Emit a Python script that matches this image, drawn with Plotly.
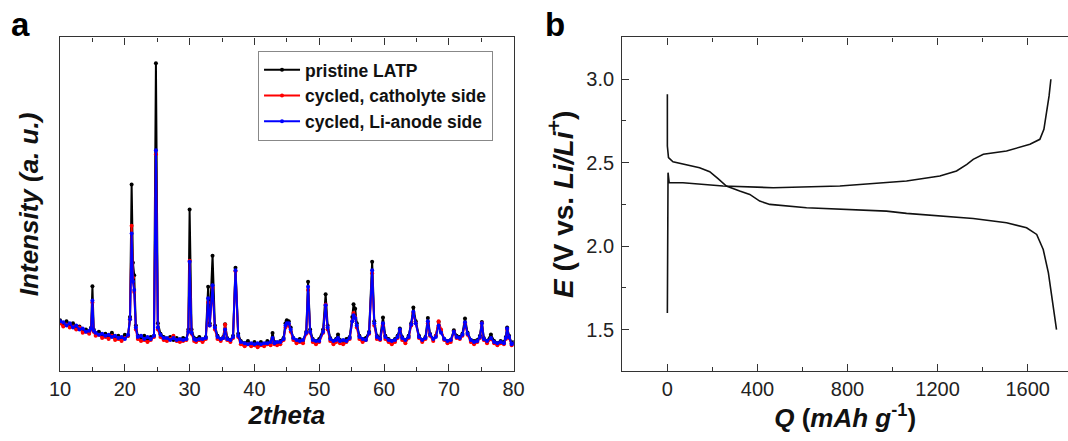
import plotly.graph_objects as go

# ---------------- Panel a: XRD ----------------
two_theta = [10.0, 10.5, 11.0, 11.5, 12.0, 12.5, 13.0, 13.5, 14.0, 14.5, 14.8, 15.0, 15.2, 15.5,
             16.0, 16.5, 17.0, 17.5, 18.0, 18.5, 19.0, 19.5, 20.0, 20.5, 20.8, 21.05, 21.25, 21.45,
             21.7, 22.0, 22.5, 23.0, 23.5, 24.0, 24.5, 24.8, 25.1, 25.5, 26.0, 26.5, 27.0, 27.5,
             28.0, 28.5, 29.0, 29.5, 29.8, 30.0, 30.3, 30.7, 31.0, 31.5, 32.0, 32.5, 32.86, 33.1,
             33.54, 33.9, 34.3, 34.8, 35.2, 35.47, 35.8, 36.3, 36.7, 37.08, 37.5, 37.9, 38.5, 39.0,
             39.5, 40.0, 40.5, 41.0, 41.5, 42.0, 42.5, 42.8, 43.1, 43.5, 44.0, 44.5, 44.8, 45.0,
             45.3, 45.6, 46.0, 46.5, 47.0, 47.5, 48.0, 48.28, 48.6, 49.0, 49.5, 50.0, 50.6, 50.99,
             51.3, 51.7, 52.2, 52.6, 52.9, 53.2, 53.7, 54.2, 54.7, 55.1, 55.3, 55.55, 55.8, 56.2,
             56.7, 57.2, 57.7, 58.17, 58.5, 58.9, 59.4, 59.84, 60.2, 60.7, 61.2, 61.7, 62.1, 62.45,
             62.8, 63.3, 63.8, 64.2, 64.53, 64.9, 65.4, 65.9, 66.4, 66.77, 67.1, 67.6, 68.0, 68.43,
             68.8, 69.3, 69.8, 70.3, 70.78, 71.2, 71.7, 72.1, 72.5, 72.9, 73.4, 73.9, 74.4, 74.8,
             75.1, 75.4, 75.9, 76.5, 77.0, 77.5, 78.0, 78.5, 78.8, 79.0, 79.3, 79.7, 80.0]

pristine = [2450, 2250, 2400, 2200, 2300, 2050, 2150, 1950, 2000, 1850, 2100, 4080, 2000, 1800,
            1900, 1700, 1800, 1650, 1850, 1650, 1700, 1600, 1750, 1700, 2600, 8960, 5200, 4610,
            2200, 1700, 1600, 1700, 1550, 1650, 1700, 14770, 2300, 1800, 1650, 1550, 1650, 1500,
            1600, 1500, 1600, 1550, 2000, 7760, 2000, 1600, 1550, 1650, 1500, 1650, 4050, 2300,
            5540, 2200, 1700, 1550, 1650, 2260, 1600, 1500, 1700, 4960, 1800, 1450, 1350, 1450,
            1300, 1400, 1300, 1400, 1300, 1450, 1350, 1840, 1400, 1350, 1450, 1600, 2300, 2450,
            2400, 2100, 1600, 1450, 1550, 1450, 1900, 4290, 2000, 1550, 1450, 1550, 2000, 3700,
            2200, 1600, 1450, 1550, 1760, 1500, 1450, 1550, 1650, 2600, 3220, 3000, 2300, 1700,
            1550, 1600, 1900, 5250, 2400, 1700, 1600, 2580, 1700, 1550, 1450, 1550, 1700, 2050,
            1650, 1500, 1700, 2300, 3060, 2400, 1700, 1500, 1650, 2560, 1800, 1550, 1700, 2370,
            1900, 1550, 1450, 1500, 1970, 1700, 1650, 1800, 2530, 1850, 1500, 1450, 1500, 1700,
            2370, 1600, 1450, 1760, 1450, 1350, 1450, 1400, 1650, 2100, 1700, 1350, 1400]

catholyte = [2300, 2150, 2250, 2100, 2150, 2000, 2100, 1850, 1900, 1800, 2000, 3300, 1900, 1700,
             1750, 1600, 1650, 1550, 1700, 1500, 1550, 1450, 1600, 1700, 2500, 6980, 4500, 3800,
             2000, 1550, 1450, 1500, 1400, 1500, 1650, 10400, 2000, 1650, 1500, 1450, 1550, 1700,
             1450, 1400, 1450, 1500, 1900, 5300, 1800, 1450, 1400, 1500, 1400, 1550, 3300, 2200,
             4000, 2000, 1550, 1450, 1600, 2250, 1500, 1400, 1600, 4800, 1650, 1300, 1200, 1300,
             1200, 1250, 1150, 1250, 1200, 1300, 1250, 1550, 1300, 1250, 1300, 1500, 2100, 2250,
             2200, 1900, 1500, 1350, 1400, 1350, 1800, 3900, 1850, 1400, 1300, 1400, 1850, 3200,
             2000, 1450, 1300, 1400, 1550, 1350, 1300, 1400, 1550, 2400, 2800, 2600, 2100, 1550,
             1400, 1500, 1800, 4700, 2200, 1550, 1500, 2200, 1550, 1400, 1300, 1400, 1600, 1950,
             1500, 1350, 1600, 2200, 2800, 2300, 1600, 1400, 1550, 2300, 1700, 1450, 1700, 2400,
             2000, 1500, 1350, 1400, 1900, 1600, 1550, 1700, 2300, 1750, 1400, 1300, 1400, 1600,
             2300, 1500, 1350, 1550, 1350, 1250, 1350, 1300, 1550, 2000, 1600, 1250, 1300]

li_anode = [2400, 2350, 2200, 2300, 2100, 2200, 2000, 2050, 1900, 1950, 2050, 3400, 1950, 1850,
            1750, 1800, 1700, 1750, 1650, 1700, 1600, 1650, 1550, 1750, 2500, 6600, 4300, 3900,
            2100, 1650, 1700, 1550, 1650, 1550, 1700, 10600, 2100, 1750, 1600, 1600, 1500, 1600,
            1500, 1550, 1500, 1550, 1900, 5250, 1850, 1550, 1500, 1550, 1550, 1600, 3500, 2200,
            4130, 2100, 1650, 1550, 1600, 2000, 1550, 1500, 1650, 4850, 1700, 1400, 1350, 1300,
            1350, 1300, 1350, 1300, 1350, 1350, 1400, 1600, 1350, 1400, 1400, 1550, 2200, 2300,
            2300, 2000, 1600, 1500, 1450, 1500, 1850, 4050, 1900, 1500, 1450, 1450, 1900, 3170,
            2100, 1550, 1450, 1500, 1600, 1450, 1500, 1450, 1600, 2400, 2690, 2550, 2200, 1650,
            1550, 1500, 1850, 4850, 2300, 1650, 1550, 2300, 1650, 1500, 1450, 1500, 1650, 2000,
            1600, 1500, 1650, 2250, 2850, 2300, 1650, 1500, 1600, 2400, 1750, 1550, 1650, 2200,
            1850, 1550, 1450, 1500, 1900, 1650, 1600, 1750, 2350, 1800, 1500, 1400, 1450, 1650,
            2300, 1550, 1450, 1600, 1400, 1350, 1400, 1350, 1600, 2050, 1650, 1300, 1350]

series_names = ["pristine LATP", "cycled, catholyte side", "cycled, Li-anode side"]
series_colors = ["#000000", "#ff0000", "#0000ff"]

# ---------------- Panel b: voltage profile ----------------
discharge_q = [0, 0, 5, 25, 143, 188, 225, 262, 321, 366, 410, 455, 618, 973, 1062, 1358,
               1506, 1595, 1640, 1669, 1692, 1714, 1728]
discharge_e = [2.91, 2.60, 2.53, 2.505, 2.47, 2.446, 2.404, 2.36, 2.33, 2.31, 2.27, 2.25, 2.23,
               2.21, 2.196, 2.166, 2.14, 2.11, 2.07, 1.98, 1.84, 1.62, 1.50]
charge_q = [0, 0, 3, 8, 69, 247, 470, 766, 1062, 1210, 1284, 1330, 1358, 1403, 1506, 1610,
            1654, 1672, 1685, 1695, 1703]
charge_e = [1.60, 2.30, 2.44, 2.38, 2.38, 2.36, 2.35, 2.36, 2.39, 2.42, 2.45, 2.49, 2.52, 2.55,
            2.57, 2.61, 2.64, 2.70, 2.80, 2.90, 3.00]

FONT = "Arial, 'Liberation Sans', sans-serif"
AX = "#333333"

fig = go.Figure()
ys = [pristine, catholyte, li_anode]
for i, (name, col, yv) in enumerate(zip(series_names, series_colors, ys)):
    fig.add_trace(go.Scatter(
        x=two_theta, y=yv, name=name, mode="lines+markers",
        line=dict(color=col, width=2), marker=dict(color=col, size=4),
        legendgroup=f"g{i}", xaxis="x", yaxis="y"))

fig.add_trace(go.Scatter(x=discharge_q, y=discharge_e, mode="lines", showlegend=False,
                         line=dict(color="#111111", width=1.6), xaxis="x2", yaxis="y2"))
fig.add_trace(go.Scatter(x=charge_q, y=charge_e, mode="lines", showlegend=False,
                         line=dict(color="#111111", width=1.6), xaxis="x2", yaxis="y2"))

tickfont = dict(family=FONT, size=20, color="#222222")
titlefont = dict(family=FONT, size=26, color="#111111")

fig.update_layout(
    width=1068, height=441,
    margin=dict(l=0, r=0, t=0, b=0, autoexpand=False),
    paper_bgcolor="white", plot_bgcolor="white",
    showlegend=True,
    legend=dict(x=0.2416, y=0.8844, xanchor="left", yanchor="top",
                bgcolor="white", bordercolor="#888888", borderwidth=1,
                font=dict(family=FONT, size=17.5, color="#111111", weight="bold"),
                traceorder="grouped", tracegroupgap=0, itemwidth=36),
    xaxis=dict(domain=[0.0562, 0.4809], range=[10, 80], dtick=10, tick0=10,
               ticks="inside", ticklen=7, tickwidth=1.3, tickcolor=AX,
               minor=dict(dtick=5, ticks="inside", ticklen=4, tickwidth=1.3, tickcolor=AX),
               showline=True, linecolor=AX, linewidth=1.3, mirror="ticks",
               showgrid=False, zeroline=False, tickfont=tickfont, ticklabelstandoff=0,
               automargin=False,
               title=dict(text="<b><i>2theta</i></b>", font=titlefont, standoff=0),
               anchor="y"),
    yaxis=dict(domain=[0.158, 0.915], range=[0, 16000], showticklabels=False, ticks="",
               showline=True, linecolor=AX, linewidth=1.3, mirror=True,
               showgrid=False, zeroline=False, automargin=False,
               title=dict(text="<b><i>Intensity (a. u.)</i></b>", font=titlefont, standoff=12),
               anchor="x"),
    yaxis3=dict(overlaying="y", side="right", anchor="x", range=[0, 16000], tick0=0, dtick=1000,
                ticks="inside", ticklen=6, tickwidth=1.3, tickcolor=AX, showticklabels=False,
                showline=False, showgrid=False, zeroline=False, automargin=False),
    xaxis2=dict(domain=[0.5827, 1.0], range=[-200, 1779], tick0=0, dtick=400,
                ticks="inside", ticklen=7, tickwidth=1.3, tickcolor=AX,
                minor=dict(dtick=200, ticks="inside", ticklen=4, tickwidth=1.3, tickcolor=AX),
                showline=True, linecolor=AX, linewidth=1.3, mirror="ticks",
                showgrid=False, zeroline=False, tickfont=tickfont, ticklabelstandoff=0,
                automargin=False,
                title=dict(text="<b><i>Q</i> (<i>mAh g</i><sup>-1</sup>)</b>", font=titlefont, standoff=0),
                anchor="y2"),
    yaxis2=dict(domain=[0.158, 0.915], range=[1.25, 3.25], tick0=1.5, dtick=0.5,
                tickformat=".1f",
                ticks="inside", ticklen=7, tickwidth=1.3, tickcolor=AX,
                minor=dict(dtick=0.25, ticks="inside", ticklen=4, tickwidth=1.3, tickcolor=AX),
                showline=True, linecolor=AX, linewidth=1.3, mirror=False,
                showgrid=False, zeroline=False, tickfont=tickfont, ticklabelstandoff=3,
                automargin=False,
                title=dict(text="<b><i>E</i> (V vs. <i>Li/Li</i><sup>+</sup>)</b>",
                           font=dict(family=FONT, size=28, color="#111111"), standoff=4),
                anchor="x2"),
    annotations=[
        dict(text="<b>a</b>", x=20 / 1068, y=1 - 25 / 441, xref="paper", yref="paper",
             showarrow=False, font=dict(family=FONT, size=33, color="#000000"),
             xanchor="center", yanchor="middle"),
        dict(text="<b>b</b>", x=555 / 1068, y=1 - 25 / 441, xref="paper", yref="paper",
             showarrow=False, font=dict(family=FONT, size=33, color="#000000"),
             xanchor="center", yanchor="middle"),
    ],
)

fig.write_html("out.html", config={"displayModeBar": False},
               post_script="document.body.style.margin='0px';document.body.style.padding='0px';")
